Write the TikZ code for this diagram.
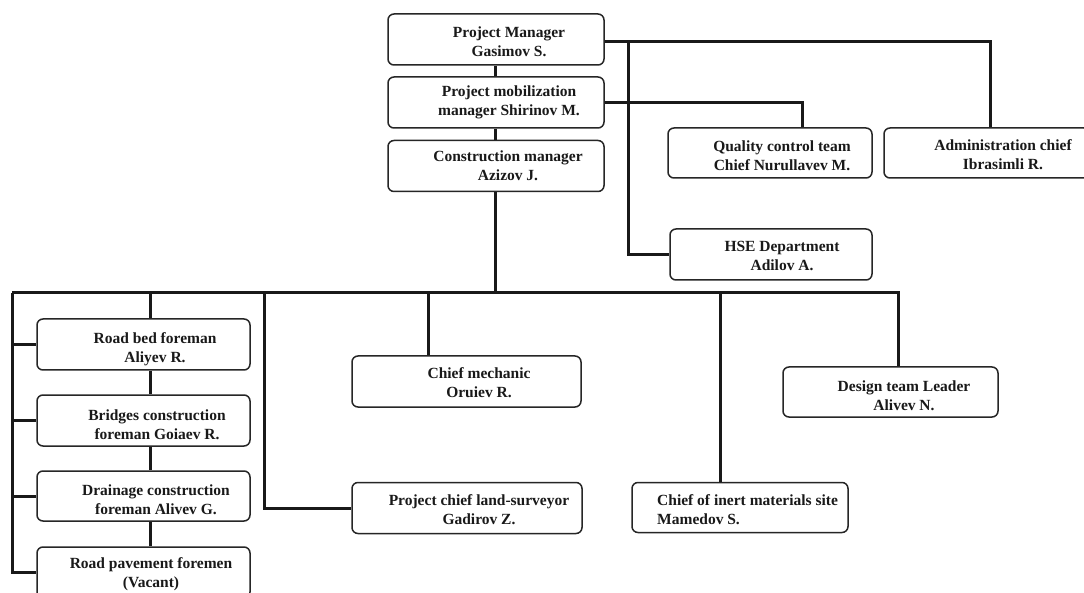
\documentclass[tikz,border=0pt]{standalone}
\usepackage{fontspec}
\setmainfont{Liberation Serif}
\begin{document}
\begin{tikzpicture}[x=1pt,y=-1pt,
  box/.style={draw=black!85,line width=1.5pt,rounded corners=6pt,rectangle,inner sep=0pt,minimum height=51pt},
  txt/.style={font=\bfseries\fontsize{15.5}{19}\selectfont,align=center,inner sep=0pt,text=black!90},
  conn/.style={line width=3pt,black!90}]
\useasboundingbox (0,0) rectangle (1084,593);
\fill[white] (0,0) rectangle (1084,593);
\clip (0,0) rectangle (1084,593);
% boxes
\node[box,minimum width=216pt] (pm)  at (496,39.5) {};
\node[box,minimum width=216pt] (mob) at (496,102.5) {};
\node[box,minimum width=216pt] (con) at (496,166) {};
\node[box,minimum width=204pt,minimum height=50pt] (qc)  at (770,153) {};
\node[box,minimum width=206pt,minimum height=50pt] (adm) at (987,153) {};
\node[box,minimum width=202pt] (hse) at (771,254.5) {};
\node[box,minimum width=213pt] (rb)  at (143.5,344.5) {};
\node[box,minimum width=213pt] (br)  at (143.5,420.5) {};
\node[box,minimum width=213pt,minimum height=50pt] (dr)  at (143.5,496) {};
\node[box,minimum width=213pt] (rp)  at (143.5,572.5) {};
\node[box,minimum width=229pt] (cm)  at (466.5,381.5) {};
\node[box,minimum width=230pt] (ls)  at (467,508) {};
\node[box,minimum width=216pt,minimum height=50pt] (in)  at (740,507.5) {};
\node[box,minimum width=215pt,minimum height=50pt] (dt)  at (890.5,392) {};
% texts
\node[txt] (tpm)  at (509,42) {Project Manager\\Gasimov S.};
\node[txt] (tmob) at (509,102) {Project mobilization\\manager Shirinov M.};
\node[txt] (tcon) at (508,166) {Construction manager\\Azizov J.};
\node[txt] (tqc)  at (782,155.5) {Quality control team\\Chief Nurullavev M.};
\node[txt] (tadm) at (1003,155) {Administration chief\\Ibrasimli R.};
\node[txt] (thse) at (782,256) {HSE Department\\Adilov A.};
\node[txt] (trb)  at (155,349) {Road bed foreman\\Aliyev R.};
\node[txt] (tbr)  at (157,425) {Bridges construction\\foreman Goiaev R.};
\node[txt] (tdr)  at (156,500) {Drainage construction\\foreman Alivev G.};
\node[txt] (trp)  at (151,574) {Road pavement foremen\\(Vacant)};
\node[txt] (tcm)  at (479,383) {Chief mechanic\\Oruiev R.};
\node[txt] (tls)  at (479,510) {Project chief land-surveyor\\Gadirov Z.};
\node[txt,align=left,anchor=west] (tin) at (657,510) {Chief of inert materials site\\Mamedov S.};
\node[txt] (tdt)  at (904,396) {Design team Leader\\Alivev N.};
% junction coordinates
\coordinate (j1) at (628,42);
\coordinate (busL) at (12,293);
\coordinate (busR) at (898,293);
\coordinate (b1) at (150,293);
\coordinate (b2) at (264,293);
\coordinate (b3) at (428,293);
\coordinate (b4) at (720,293);
\coordinate (lb) at (12,572.5);
% connectors
\draw[conn] (pm.south -| 495,0) -- (mob.north -| 495,0);
\draw[conn] (mob.south -| 495,0) -- (con.north -| 495,0);
\draw[conn] (con.south -| 495,0) -- (495,293);
\draw[conn] (pm.east |- j1) -| ([xshift=3pt]adm.north);
\draw[conn] (j1) |- (hse.west);
\draw[conn] (mob.east) -| ([xshift=32pt]qc.north);
\draw[conn] (busL) -- (busR) -- (busR |- dt.north);
\draw[conn] (b1) -- (b1 |- rb.north);
\draw[conn] (b1 |- rb.south) -- (b1 |- br.north);
\draw[conn] (b1 |- br.south) -- (b1 |- dr.north);
\draw[conn] (b1 |- dr.south) -- (b1 |- rp.north);
\draw[conn] (b2) |- (ls.west);
\draw[conn] (b3) -- (b3 |- cm.north);
\draw[conn] (b4) -- (b4 |- in.north);
\draw[conn] (busL) -- (lb) -- (rp.west);
\draw[conn] (busL |- rb.west) -- (rb.west);
\draw[conn] (busL |- br.west) -- (br.west);
\draw[conn] (busL |- dr.west) -- (dr.west);
\end{tikzpicture}
\end{document}
